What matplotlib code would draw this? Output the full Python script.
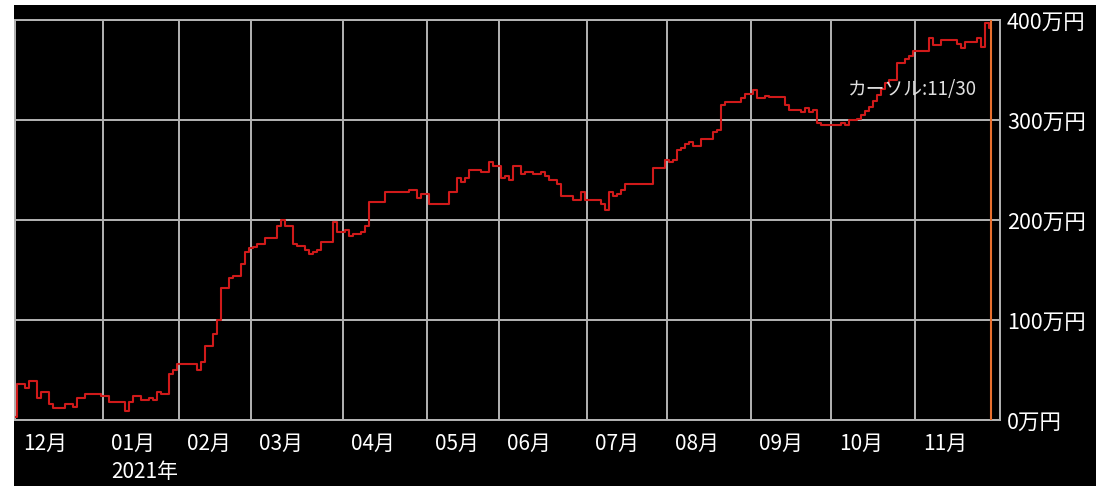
import matplotlib

matplotlib.use("Agg")
import matplotlib.pyplot as plt
import numpy as np
from matplotlib.patches import Rectangle
from matplotlib.ticker import NullFormatter

plt.rcParams["font.family"] = ["Noto Sans CJK JP", "DejaVu Sans"]

# account balance in 万円, one value per trading day (Dec 2020 .. Nov 30 2021)
dec = [3, 36, 36, 32, 39, 39, 22, 28, 28, 16, 12, 12, 12, 16, 16, 13, 22, 22,
       26, 26, 26, 26]
jan = [24, 24, 18, 18, 18, 18, 9, 18, 24, 24, 20, 20, 22, 20, 28, 26, 26, 46, 50]
feb = [56, 56, 56, 56, 56, 50, 58, 74, 74, 86, 100, 132, 132, 142, 144, 144,
       156, 168]
mar = [172, 173, 176, 176, 182, 182, 182, 194, 200, 194, 194, 176, 174, 174,
       170, 166, 168, 170, 178, 178, 178, 198, 188]
apr = [188, 190, 184, 186, 186, 188, 194, 218, 218, 218, 218, 228, 228, 228,
       228, 228, 228, 230, 230, 222, 226]
may = [226, 216, 216, 216, 216, 216, 228, 228, 242, 238, 242, 250, 250, 250,
       248, 248, 258, 254]
jun = [254, 242, 244, 240, 254, 254, 246, 248, 248, 246, 246, 248, 244, 240,
       240, 236, 224, 224, 224, 220, 220, 228]
jul = [220, 220, 220, 220, 216, 210, 228, 224, 226, 230, 236, 236, 236, 236,
       236, 236, 236, 252, 252, 252]
aug = [260, 258, 260, 270, 272, 276, 278, 274, 274, 281, 281, 281, 288, 290,
       315, 318, 318, 318, 318, 322, 326]
sep = [326, 330, 322, 322, 324, 323, 323, 323, 323, 315, 310, 310, 310, 308,
       312, 308, 310, 297, 295, 295]
oct_ = [295, 295, 295, 297, 295, 300, 300, 301, 305, 309, 313, 319, 325, 331,
        337, 340, 340, 357, 357, 361, 364]
nov = [369, 369, 369, 369, 382, 375, 375, 380, 380, 380, 380, 376, 372, 378,
       378, 378, 382, 373, 397, 392]

months = [dec, jan, feb, mar, apr, may, jun, jul, aug, sep, oct_, nov]
month_labels = ["12月", "01月\n2021年", "02月", "03月", "04月", "05月", "06月",
                "07月", "08月", "09月", "10月", "11月"]
y_ticks = [0, 100, 200, 300, 400]
y_labels = [f"{v}万円" for v in y_ticks]
cursor_label = "カーソル:11/30"

balance = np.concatenate(months)
days = np.arange(len(balance))
month_starts = np.cumsum([0] + [len(m) for m in months[:-1]])

W, H = 1096, 486
fig = plt.figure(figsize=(W / 100, H / 100), dpi=100, facecolor="white")
fig.add_artist(Rectangle((14 / W, 0), 1 - 14 / W, (H - 5) / H,
                         transform=fig.transFigure, facecolor="black",
                         edgecolor="none", zorder=0))
ax = fig.add_axes([15 / W, 66 / H, 985 / W, 400 / H])
ax.set_facecolor("black")

grid_c = "#b4b4b4"
ax.step(days, balance, where="mid", color="#d01a1a", lw=1.5, zorder=3)
ax.axvline(days[-1], color="#e8702e", lw=1.5, zorder=4)

ax.set_xlim(-0.03, 246.22)
ax.set_ylim(0, 400)

ax.set_xticks(month_starts)
ax.xaxis.set_major_formatter(NullFormatter())
ax.set_xticks(month_starts + 2, labels=month_labels, minor=True)
for lab in ax.get_xticklabels(minor=True):
    lab.set_horizontalalignment("left")
    lab.set_linespacing(1.4)
ax.tick_params(axis="x", which="both", length=0, colors="white",
               labelsize=15, pad=9)

ax.yaxis.tick_right()
ax.set_yticks(y_ticks, labels=y_labels)
ax.tick_params(axis="y", length=0, pad=5, labelsize=15.5, colors="white")

ax.grid(True, which="major", color=grid_c, lw=1.4)
ax.set_axisbelow(True)
for sp in ax.spines.values():
    sp.set_color(grid_c)
    sp.set_linewidth(1.4)

ax.text(0.846, 0.825, cursor_label, transform=ax.transAxes, color="#e0e0e0",
        fontsize=13.5, va="center", ha="left", zorder=5)

fig.savefig("out.png", dpi=100, facecolor="white")
